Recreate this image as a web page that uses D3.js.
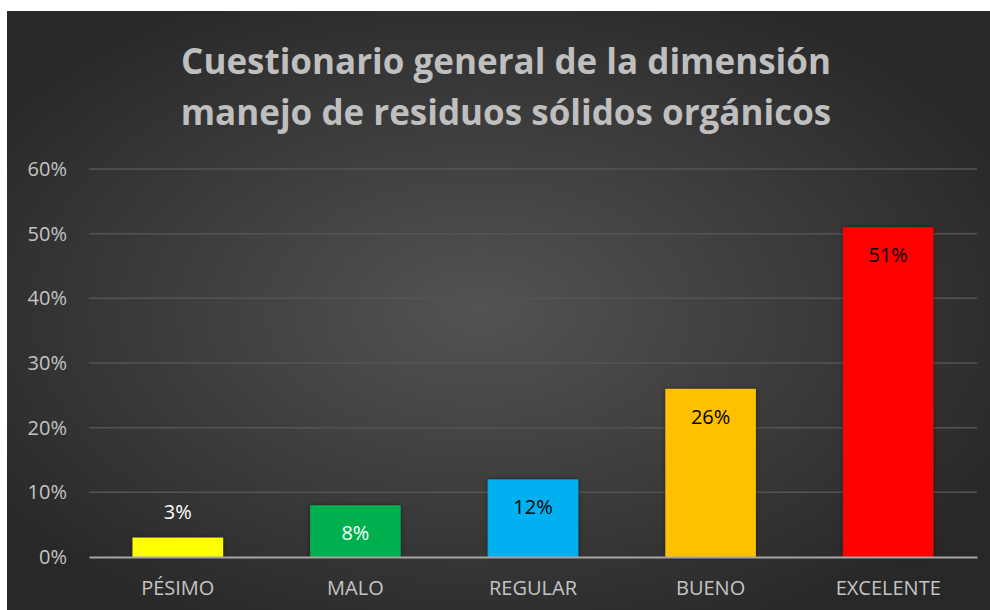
<!DOCTYPE html>
<html>
<head>
<meta charset="utf-8">
<script src="https://cdn.jsdelivr.net/npm/d3@7"></script>
<style>
  body { margin: 0; background: #fff; }
  svg { display: block; }
</style>
</head>
<body>
<div id="chart"></div>
<script>
const categories = ["PÉSIMO", "MALO", "REGULAR", "BUENO", "EXCELENTE"];
const values = [3, 8, 12, 26, 51];
const barColors = ["#ffff00", "#00b050", "#00b0f0", "#ffc000", "#ff0000"];
const labelColors = ["#ffffff", "#ffffff", "#000000", "#000000", "#000000"];
const yTicks = [0, 10, 20, 30, 40, 50, 60];
const titleLines = ["Cuestionario general de la dimensión", "manejo de residuos sólidos orgánicos"];

const W = 990, H = 610;
const margin = { top: 169, right: 13, bottom: 53, left: 89 };
const width = W - margin.left - margin.right;
const height = H - margin.top - margin.bottom;

const svg = d3.select("#chart").append("svg")
    .attr("width", W)
    .attr("height", H);

// background gradient
const defs = svg.append("defs");
const grad = defs.append("radialGradient")
    .attr("id", "bg")
    .attr("cx", "48%").attr("cy", "50%").attr("r", "60%");
grad.append("stop").attr("offset", "0%").attr("stop-color", "#535353");
grad.append("stop").attr("offset", "100%").attr("stop-color", "#282828");

const shadow = defs.append("filter").attr("id", "shadow")
    .attr("x", "-20%").attr("y", "-20%").attr("width", "140%").attr("height", "140%");
shadow.append("feDropShadow")
    .attr("dx", 0).attr("dy", 0).attr("stdDeviation", 2.5)
    .attr("flood-color", "#000").attr("flood-opacity", 0.45);

svg.append("rect")
    .attr("x", 7).attr("y", 11)
    .attr("width", W - 7).attr("height", H - 11)
    .attr("fill", "url(#bg)");

// title
svg.append("g").selectAll("text")
    .data(titleLines)
    .enter().append("text")
    .attr("x", 506)
    .attr("y", (d, i) => 74 + i * 51)
    .attr("text-anchor", "middle")
    .attr("font-family", "'Open Sans', sans-serif")
    .attr("font-weight", "bold")
    .attr("font-size", "35px")
    .attr("fill", "#bfbfbf")
    .text(d => d);

const g = svg.append("g")
    .attr("transform", `translate(${margin.left},${margin.top})`);

const x = d3.scaleBand()
    .domain(categories)
    .range([0, width])
    .paddingInner(0.49)
    .paddingOuter(0.245);

const y = d3.scaleLinear()
    .domain([0, 60])
    .range([height, 0]);

// gridlines
g.append("g")
    .selectAll("line")
    .data(yTicks.filter(t => t > 0))
    .enter().append("line")
    .attr("x1", 0).attr("x2", width)
    .attr("y1", d => y(d)).attr("y2", d => y(d))
    .attr("stroke", "#545454")
    .attr("stroke-width", 1.5);

// y axis
const yAxis = g.append("g")
    .call(d3.axisLeft(y).tickValues(yTicks).tickFormat(d => d + "%").tickSize(0).tickPadding(22));
yAxis.select(".domain").remove();
yAxis.selectAll("text")
    .attr("font-family", "'Open Sans', sans-serif")
    .attr("font-size", "20px")
    .attr("fill", "#c4c4c4");

// bars
g.selectAll(".bar")
    .data(values)
    .enter().append("rect")
    .attr("class", "bar")
    .attr("x", (d, i) => x(categories[i]))
    .attr("y", d => y(d))
    .attr("width", x.bandwidth())
    .attr("height", d => height - y(d))
    .attr("fill", (d, i) => barColors[i])
    .attr("filter", "url(#shadow)");

// x axis
const xAxis = g.append("g")
    .attr("transform", `translate(0,${height})`)
    .call(d3.axisBottom(x).tickSize(0).tickPadding(24));
xAxis.select(".domain")
    .attr("stroke", "#a6a6a6")
    .attr("stroke-width", 2);
xAxis.selectAll("text")
    .attr("font-family", "'Open Sans', sans-serif")
    .attr("font-size", "20px")
    .attr("fill", "#c4c4c4");

// value labels
g.selectAll(".val")
    .data(values)
    .enter().append("text")
    .attr("class", "val")
    .attr("x", (d, i) => x(categories[i]) + x.bandwidth() / 2)
    .attr("y", d => d < 5 ? y(d) - 19 : y(d) + 35)
    .attr("text-anchor", "middle")
    .attr("font-family", "'Open Sans', sans-serif")
    .attr("font-size", "20px")
    .attr("fill", (d, i) => labelColors[i])
    .text(d => d + "%");
</script>
</body>
</html>
